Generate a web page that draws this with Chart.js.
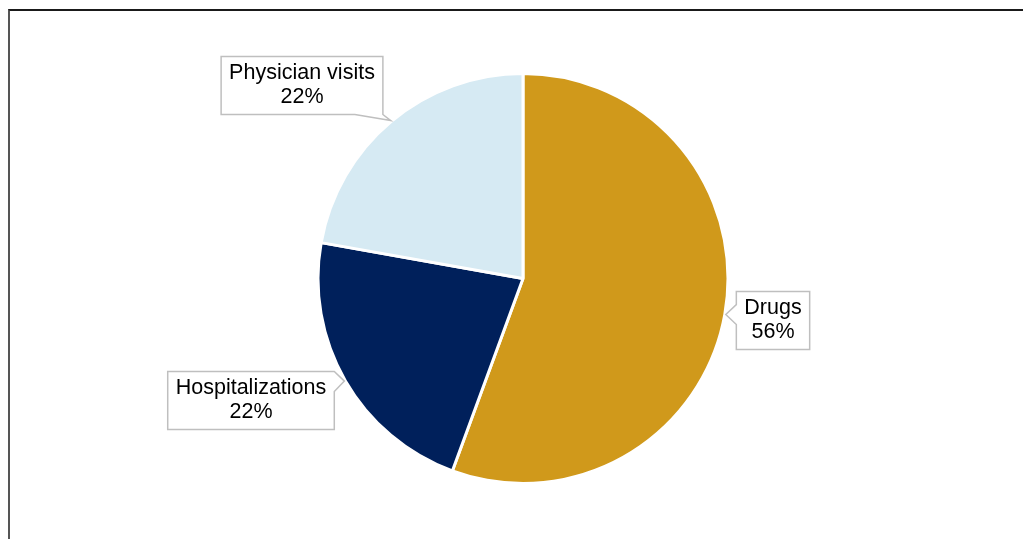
<!DOCTYPE html>
<html lang="en">
  <head>
    <meta charset="UTF-8" />
    <title>Cost breakdown</title>
    <script src="https://cdn.jsdelivr.net/npm/chart.js@4.4.1/dist/chart.umd.min.js"></script>
    <style>
      html, body { margin: 0; padding: 0; background: #fff; overflow: hidden; }
      .frame {
        position: absolute; left: 8px; top: 9px; width: 1040px; height: 560px;
        border-top: 2px solid #1a1a1a; border-left: 2px solid #555;
      }
      canvas { position: absolute; left: 0; top: 0; }
    </style>
  </head>
  <body>
    <div class="frame"></div>
    <canvas id="pie" width="1023" height="539"></canvas>

    <script>
      // data (slice shares in %, labels show them rounded)
      const categories = ["Drugs", "Hospitalizations", "Physician visits"];
      const shares = [55.6, 22.2, 22.2];
      const colors = ["#D0991B", "#00205B", "#D6EAF3"];

      // where each callout box sits, relative to the pie centre (px)
      const calloutOffsets = [
        [250, 42],
        [-272, 122],
        [-221, -193],
      ];

      const callouts = {
        id: "callouts",
        afterDatasetsDraw(chart) {
          const ctx = chart.ctx;
          const meta = chart.getDatasetMeta(0);
          ctx.save();
          ctx.font = '21.5px "Liberation Sans", Arial, sans-serif';
          ctx.textAlign = "center";
          ctx.textBaseline = "middle";
          meta.data.forEach((arc, i) => {
            const mid = (arc.startAngle + arc.endAngle) / 2;
            const R = arc.outerRadius + 1;
            const tx = arc.x + Math.cos(mid) * R;
            const ty = arc.y + Math.sin(mid) * R;
            const lines = [categories[i], Math.round(shares[i]) + "%"];
            const w = Math.max(...lines.map((l) => ctx.measureText(l).width)) + 16;
            const h = 58;
            const cx = arc.x + calloutOffsets[i][0];
            const cy = arc.y + calloutOffsets[i][1];
            const l = cx - w / 2, r = cx + w / 2, t = cy - h / 2, b = cy + h / 2;
            const half = 10;
            const clamp = (v, a, z) => Math.min(Math.max(v, a), z);
            // pick the side the tip lies beyond the most
            const sideways = Math.abs(tx - cx) / (w / 2) > Math.abs(ty - cy) / (h / 2);

            // outline with pointer on the side facing the slice
            const pts = [];
            if (sideways && tx > cx) {
              const m = clamp(ty, t + half, b - half);
              pts.push([l, t], [r, t], [r, m - half], [tx, ty], [r, m + half], [r, b], [l, b]);
            } else if (sideways) {
              const m = clamp(ty, t + half, b - half);
              pts.push([l, t], [r, t], [r, b], [l, b], [l, m + half], [tx, ty], [l, m - half]);
            } else if (ty > cy) {
              const m = clamp(tx, l + 14, r - 14);
              pts.push([l, t], [r, t], [r, b], [m + 14, b], [tx, ty], [m - 14, b], [l, b]);
            } else {
              const m = clamp(tx, l + 14, r - 14);
              pts.push([l, t], [m - 14, t], [tx, ty], [m + 14, t], [r, t], [r, b], [l, b]);
            }
            ctx.beginPath();
            pts.forEach((p, k) => (k ? ctx.lineTo(p[0], p[1]) : ctx.moveTo(p[0], p[1])));
            ctx.closePath();
            ctx.fillStyle = "#fff";
            ctx.fill();
            ctx.lineWidth = 1.5;
            ctx.strokeStyle = "#BFBFBF";
            ctx.stroke();

            ctx.fillStyle = "#000";
            ctx.fillText(lines[0], cx, cy - 12);
            ctx.fillText(lines[1], cx, cy + 12);
          });
          ctx.restore();
        },
      };

      new Chart(document.getElementById("pie"), {
        type: "pie",
        data: {
          labels: categories,
          datasets: [
            {
              data: shares,
              backgroundColor: colors,
              borderColor: "#fff",
              borderWidth: 3,
              hoverOffset: 0,
            },
          ],
        },
        options: {
          responsive: false,
          animation: false,
          layout: { padding: { top: 72, bottom: 54, left: 23, right: 0 } },
          plugins: {
            legend: { display: false },
            tooltip: { enabled: false },
          },
        },
        plugins: [callouts],
      });
    </script>
  </body>
</html>
